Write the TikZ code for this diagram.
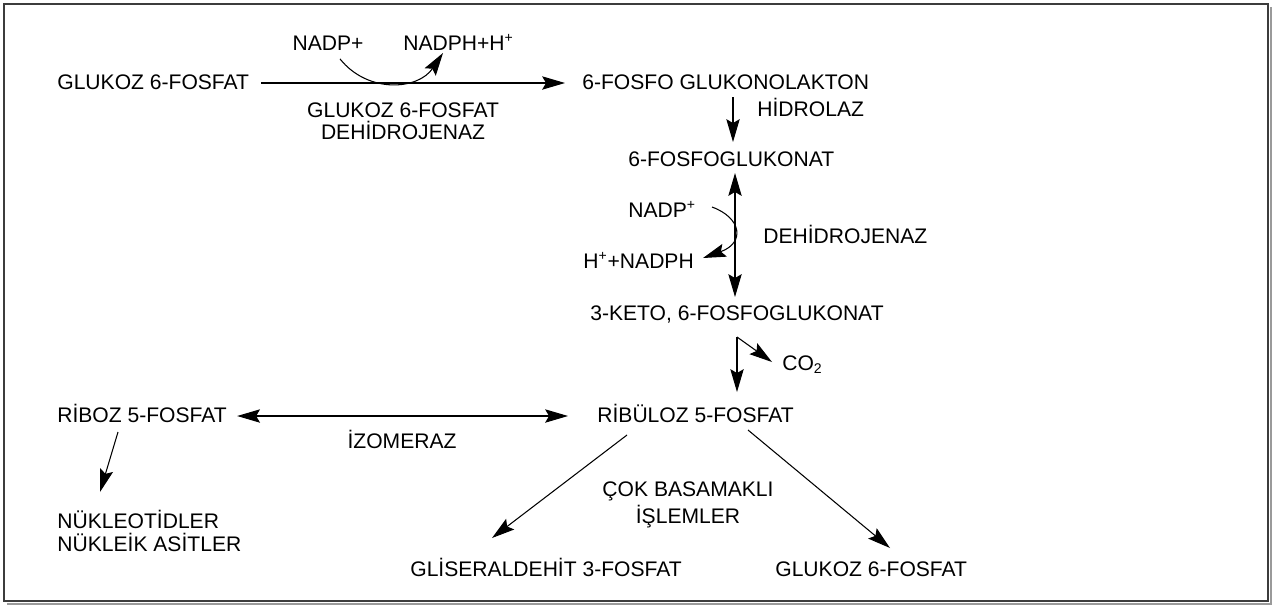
\documentclass[tikz,border=0pt]{standalone}
\usepackage{fontspec}
\setmainfont{Liberation Sans}
\usetikzlibrary{arrows.meta,calc}
\definecolor{ink}{HTML}{000000}
\definecolor{rim}{HTML}{3C3C3C}
\definecolor{shadowgray}{HTML}{9A9A9A}
\newcommand{\dgfont}{\fontsize{12}{12.6}\selectfont}

\begin{document}
\begin{tikzpicture}[x=0.02cm,y=-0.02cm,>={Stealth[length=13pt,width=7.6pt,inset=2.2pt]},
  lbl/.style={inner sep=0pt,font=\dgfont,text height=8.6pt,text depth=0pt,anchor=west},
  two/.style={inner sep=0pt,font=\dgfont},
  flow/.style={->,line width=0.6pt,draw=ink}]
\useasboundingbox (0,0) rectangle (1273,606);
% frame with a small drop shadow
\draw[draw=shadowgray,line width=1pt] (1271,7) -- (1271,604) -- (7,604);
\draw[draw=rim,line width=0.8pt] (4,4) rectangle (1268,601);

% oxidative branch
\node[lbl] (g6p) at (57,82) {GLUKOZ 6-FOSFAT};
\node[lbl] (lakton) at (582,82) {6-FOSFO GLUKONOLAKTON};
\node[lbl,anchor=center] (nadpa) at (328,43) {NADP+};
\node[lbl] (nadpha) at (403,43) {NADPH+H\textsuperscript{+}};
\node[two,align=center] (enza) at (403,121) {GLUKOZ 6-FOSFAT\\DEHİDROJENAZ};
\node[lbl] (hidr) at (757,108.5) {HİDROLAZ};
\node[lbl] (fglu) at (628,158.5) {6-FOSFOGLUKONAT};
\node[lbl] (nadpb) at (628,210) {NADP\textsuperscript{+}};
\node[lbl] (nadphb) at (583,261) {H\textsuperscript{+}+NADPH};
\node[lbl] (dehid) at (763,236) {DEHİDROJENAZ};
\node[lbl] (keto) at (590,313) {3-KETO, 6-FOSFOGLUKONAT};
\node[lbl] (co2) at (782,363) {CO\textsubscript{2}};

% non-oxidative branch
\node[lbl] (ribu) at (597,415) {RİBÜLOZ 5-FOSFAT};
\node[lbl] (ribo) at (57,415) {RİBOZ 5-FOSFAT};
\node[lbl,anchor=center] (izo) at (402,441) {İZOMERAZ};
\node[two,align=left,anchor=west] (nukl) at (57,531) {NÜKLEOTİDLER\\NÜKLEİK ASİTLER};
\node[two,align=center] (cok) at (688,505) {ÇOK BASAMAKLI\\[1.5pt]İŞLEMLER};
\node[lbl] (glis) at (410,569) {GLİSERALDEHİT 3-FOSFAT};
\node[lbl] (g6pb) at (775,569) {GLUKOZ 6-FOSFAT};

\coordinate (kc) at ($(keto.west)+(147,24)$);

\draw[flow] ($(g6p.east)+(12,1)$) -- ($(lakton.west)+(-17,1)$);
\draw[flow] ($(nadpa.south)+(12,8)$) .. controls +(28,35) and +(-25,37) .. ($(nadpha.west)+(40,10)$);
\draw[flow] ($(lakton.west)+(151,15)$) -- ($(fglu.west)+(105,-16.5)$);
\draw[flow,<->] ($(fglu.west)+(107,14.5)$) -- ($(keto.west)+(145,-16)$);
\draw[flow] ($(nadpb.west)+(84,-3)$) .. controls +(30,11) and +(42,-15) .. ($(nadphb.west)+(120,-3)$);
\draw[flow] (kc) -- ($(ribu.west)+(140,-23)$);
\draw[flow] (kc) -- ($(co2.west)+(-10,-1)$);
\draw[flow,<->] ($(ribo.east)+(10,1)$) -- ($(ribu.west)+(-29,1)$);
\draw[flow] ($(ribo.west)+(61,17)$) -- ($(nukl.west)+(43,-39)$);
\draw[flow] ($(ribu.west)+(30,20)$) -- ($(glis.west)+(82,-31)$);
\draw[flow] ($(ribu.west)+(151,15)$) -- ($(g6pb.west)+(115,-21)$);
\end{tikzpicture}
\end{document}
